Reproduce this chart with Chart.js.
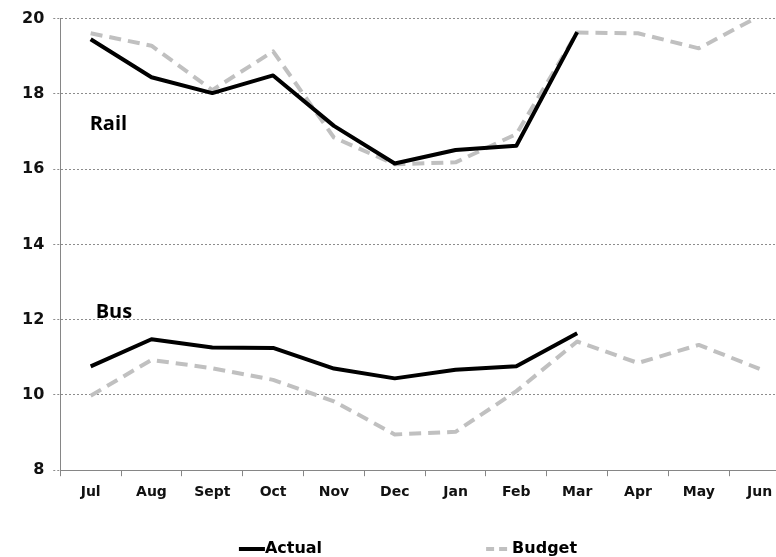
<!DOCTYPE html>
<html>
<head>
<meta charset="utf-8">
<script src="https://cdn.jsdelivr.net/npm/chart.js@4"></script>
<style>
  body { margin: 0; overflow: hidden; background: #fff; }
  #wrap { width: 816px; height: 557px; }
</style>
</head>
<body>
<div id="wrap"><canvas id="chart" width="816" height="557"></canvas></div>
<script>
// Monthly figures, rail (top pair) and bus (bottom pair)
const months = ['Jul', 'Aug', 'Sept', 'Oct', 'Nov', 'Dec', 'Jan', 'Feb', 'Mar', 'Apr', 'May', 'Jun'];
const railActual = [19.45, 18.44, 18.02, 18.49, 17.15, 16.15, 16.51, 16.62, 19.64, null, null, null];
const railBudget = [19.61, 19.28, 18.1, 19.13, 16.84, 16.13, 16.18, 16.93, 19.63, 19.61, 19.21, 20.07];
const busActual = [10.76, 11.48, 11.26, 11.25, 10.7, 10.44, 10.67, 10.76, 11.64, null, null, null];
const busBudget = [9.98, 10.93, 10.71, 10.4, 9.83, 8.95, 9.02, 10.1, 11.42, 10.85, 11.33, 10.69];
const yTicks = [8, 10, 12, 14, 16, 18, 20];

const tickFont = 'DejaVu Sans';
const actualStyle = { borderColor: '#000', borderWidth: 4, borderDash: [] };
const budgetStyle = { borderColor: '#c0c0c0', borderWidth: 4, borderDash: [12, 7] };

function line(label, data, style) {
    return {
        label: label,
        data: data,
        borderColor: style.borderColor,
        backgroundColor: style.borderColor,
        borderWidth: style.borderWidth,
        borderDash: style.borderDash,
        borderCapStyle: 'butt',
        borderJoinStyle: 'round',
        pointRadius: 0,
        tension: 0,
        fill: false,
        spanGaps: false
    };
}

// Series names drawn next to the lines
const seriesNames = {
    id: 'seriesNames',
    afterDatasetsDraw(chart) {
        const { ctx, scales } = chart;
        ctx.save();
        ctx.fillStyle = '#000';
        ctx.font = 'bold 20px "Open Sans"';
        ctx.textBaseline = 'alphabetic';
        ctx.fillText('Rail', scales.x.getPixelForValue(0) - 1, scales.y.getPixelForValue(17.05));
        ctx.fillText('Bus', scales.x.getPixelForValue(0) + 5, scales.y.getPixelForValue(12.05));
        ctx.restore();
    }
};

// Bottom legend with line samples
const bottomLegend = {
    id: 'bottomLegend',
    afterDraw(chart) {
        const { ctx } = chart;
        const items = [
            { text: 'Actual', style: actualStyle },
            { text: 'Budget', style: budgetStyle }
        ];
        const sample = 26, gap = 164;
        ctx.save();
        ctx.font = 'bold 16px ' + tickFont;
        const widths = items.map(it => sample + ctx.measureText(it.text).width);
        const total = widths.reduce((a, b) => a + b, 0) + gap;
        let x = chart.width / 2 - total / 2;
        const y = chart.height - 8;
        items.forEach((it, i) => {
            ctx.strokeStyle = it.style.borderColor;
            ctx.lineWidth = it.style.borderWidth;
            ctx.setLineDash(it.style.borderDash.length ? [8, 5] : []);
            ctx.beginPath();
            ctx.moveTo(x, y);
            ctx.lineTo(x + sample, y);
            ctx.stroke();
            ctx.setLineDash([]);
            ctx.fillStyle = '#000';
            ctx.textBaseline = 'middle';
            ctx.fillText(it.text, x + sample, y);
            x += widths[i] + gap;
        });
        ctx.restore();
    }
};

new Chart(document.getElementById('chart'), {
    type: 'line',
    data: {
        labels: months,
        datasets: [
            line('Rail Actual', railActual, actualStyle),
            line('Bus Actual', busActual, actualStyle),
            line('Rail Budget', railBudget, budgetStyle),
            line('Bus Budget', busBudget, budgetStyle)
        ]
    },
    options: {
        responsive: false,
        animation: false,
        layout: { padding: { left: 13, right: 26, top: 8, bottom: 48 } },
        plugins: {
            legend: { display: false },
            tooltip: { enabled: false }
        },
        scales: {
            x: {
                offset: true,
                grid: {
                    offset: true,
                    drawOnChartArea: false,
                    drawTicks: true,
                    tickLength: 6,
                    color: '#868686'
                },
                border: { display: true, color: '#868686', width: 1 },
                ticks: {
                    color: '#111',
                    font: { family: tickFont, size: 14, weight: 'bold' },
                    padding: 8,
                    maxRotation: 0,
                    autoSkip: false
                }
            },
            y: {
                min: 8,
                max: 20,
                afterBuildTicks(scale) {
                    scale.ticks = yTicks.map(v => ({ value: v }));
                },
                grid: {
                    color: '#8c8c8c',
                    lineWidth: 1,
                    tickLength: 7,
                    tickColor: '#8c8c8c',
                    tickBorderDash: [2, 2]
                },
                border: { display: true, color: '#868686', width: 1, dash: [2, 2] },
                ticks: {
                    color: '#111',
                    font: { family: tickFont, size: 16, weight: 'bold' },
                    padding: 9
                }
            }
        }
    },
    plugins: [seriesNames, bottomLegend]
});
</script>
</body>
</html>
